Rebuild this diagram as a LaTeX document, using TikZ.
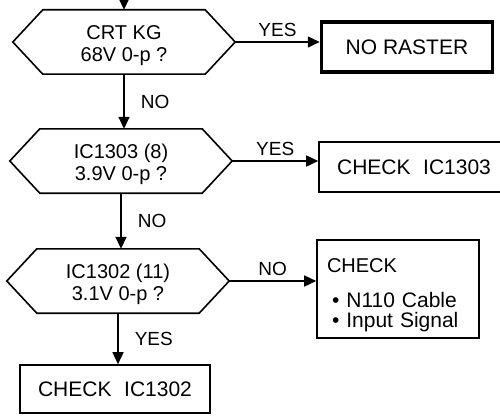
\documentclass[tikz,border=0pt]{standalone}
\usepackage{fontspec}
\setmainfont{Liberation Sans}
\usetikzlibrary{arrows.meta}
\begin{document}
\begin{tikzpicture}[x=1pt,y=-1pt,
  line/.style={line width=1.6pt, draw=black},
  conn/.style={line, -{Triangle[length=12pt,width=11pt]}},
  hexnode/.style={minimum width=222pt, minimum height=64pt, inner sep=0pt, align=center, text height=44pt, font=\fontsize{20}{22}\selectfont},
  boxnode/.style={draw, line width=1.6pt, minimum height=50pt, inner sep=0pt, font=\fontsize{21}{22}\selectfont},
  lbl/.style={font=\fontsize{19}{20}\selectfont, inner sep=2pt}]
\useasboundingbox (0,0) rectangle (500,417);
\clip (0,0) rectangle (500,417);
% decision nodes
\node[hexnode] (h1) at (124,42) {CRT KG\\68V 0-p ?};
\node[hexnode] (h2) at (121,161) {IC1303 (8)\\3.9V 0-p ?};
\node[hexnode] (h3) at (118,281) {IC1302 (11)\\3.1V 0-p ?};
\foreach \n in {h1,h2,h3}
  \draw[line, line join=miter] (\n.west) -- ([xshift=30pt]\n.north west) -- ([xshift=-30pt]\n.north east) -- (\n.east) -- ([xshift=-30pt]\n.south east) -- ([xshift=30pt]\n.south west) -- cycle;
% result boxes
\node[boxnode, line width=3.5pt, minimum width=171pt] (b1) at (407,47) {NO RASTER};
\node[boxnode, minimum width=190pt] (b2) at (414,167) {CHECK\hspace{0.6em}IC1303};
\node[boxnode, minimum width=162pt, minimum height=98pt] (b3) at (398,289) {};
\node[align=left, inner sep=0pt, text width=142pt, font=\fontsize{21}{20}\selectfont] (b3t) at ([yshift=-6pt]b3.center)
  {{\fontsize{20}{20}\selectfont CHECK}\\[15pt]\hspace*{5pt}\textbullet\ N110 Cable\\\hspace*{5pt}\textbullet\ Input Signal};
\node[boxnode, minimum width=190pt, minimum height=48pt] (b4) at (115,389) {CHECK\hspace{0.6em}IC1302};
% connectors
\coordinate (start) at (124,-14);
\draw[conn] (start) -- (h1.north);
\draw[conn] (h1.south) -- (h1.south |- h2.north) node[lbl, midway, right=14pt] {NO};
\draw[conn] (h2.south) -- (h2.south |- h3.north) node[lbl, midway, right=14pt] {NO};
\draw[conn] (h3.south) -- (h3.south |- b4.north) node[lbl, midway, right=14pt] {YES};
\draw[conn] (h1.east) -- (h1.east -| b1.west) node[lbl, midway, above=3pt] {YES};
\draw[conn] (h2.east) -- (h2.east -| b2.west) node[lbl, midway, above=3pt] {YES};
\draw[conn] (h3.east) -- (h3.east -| b3.west) node[lbl, midway, above=3pt] {NO};
\end{tikzpicture}
\end{document}
